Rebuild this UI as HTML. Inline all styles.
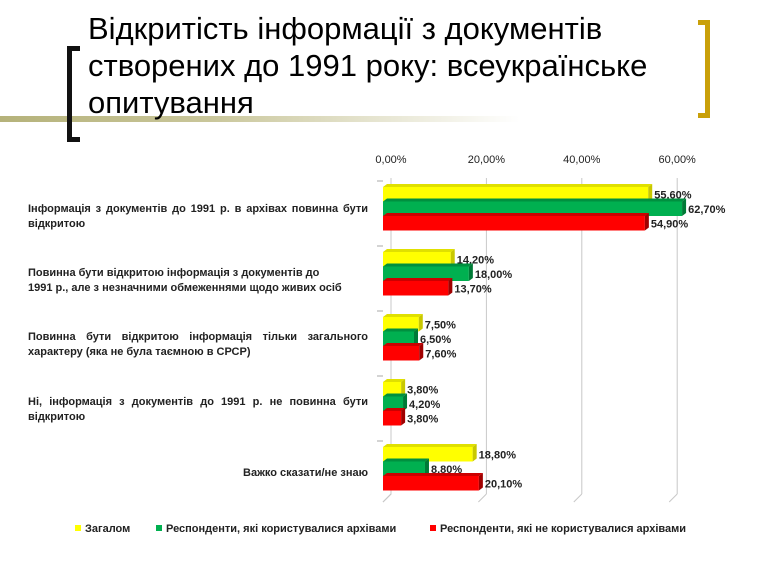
<!DOCTYPE html>
<html><head><meta charset="utf-8"><style>
body{margin:0;width:770px;height:578px;background:#fff;overflow:hidden;font-family:"Liberation Sans",sans-serif;position:relative}
.t{position:absolute;left:88px;top:10px;font-size:31px;line-height:37px;color:#000;margin:0;font-weight:normal}
.lab{position:absolute;font-size:11px;font-weight:bold;color:#222;line-height:15px;text-align:justify;text-align-last:left;width:340px;left:28px}
</style></head><body>
<div style="position:absolute;left:0;top:116px;width:520px;height:6px;background:linear-gradient(90deg,#b5b27a 0%,#c9c69a 40%,rgba(255,255,255,0) 100%)"></div>
<div style="position:absolute;left:67px;top:46px;width:8px;height:86px;border:5px solid #111;border-right:none"></div>
<div style="position:absolute;left:698px;top:20px;width:7px;height:88px;border:5px solid #c9a00a;border-left:none"></div>
<h1 class="t">Відкритість інформації з документів<br>створених до 1991 року: всеукраїнське<br>опитування</h1>
<div class="lab" style="top:202px">Інформація з документів до 1991 р. в архівах повинна бути відкритою</div>
<div class="lab" style="top:266px;width:336px">Повинна бути відкритою інформація з документів до<br>1991 р., але з незначними обмеженнями щодо живих осіб</div>
<div class="lab" style="top:330px">Повинна бути відкритою інформація тільки загального характеру (яка не була таємною в СРСР)</div>
<div class="lab" style="top:395px">Ні, інформація з документів до 1991 р. не повинна бути відкритою</div>
<div class="lab" style="top:466px;text-align:right;text-align-last:right">Важко сказати/не знаю</div>
<svg id="chart" width="770" height="578" style="position:absolute;left:0;top:0"></svg>
<script>
const categories=["c1","c2","c3","c4","c5"];
const zagalom=[55.6,14.2,7.5,3.8,18.8];
const users=[62.7,18.0,6.5,4.2,8.8];
const nonUsers=[54.9,13.7,7.6,3.8,20.1];
const ticks=[0,20,40,60];
const legendLabels=["Загалом","Респонденти, які користувалися архівами","Респонденти, які не користувалися  архівами"];
const NS="http://www.w3.org/2000/svg";
const svg=document.getElementById("chart");
const x0=383,k=4.77,dx=8,dy=8;
const xs=v=>x0+v*k;
function el(t,a){const e=document.createElementNS(NS,t);for(const n in a)e.setAttribute(n,a[n]);svg.appendChild(e);return e;}
const wall=el("polyline",{points:`${x0},502 ${x0+dx},494 ${x0+dx},178`,fill:"none",stroke:"#bbb","stroke-width":1});

ticks.forEach(t=>{
 const l=el("line",{x1:xs(t)+dx,y1:178,x2:xs(t)+dx,y2:494,stroke:"#c8c8c8"});
 
 const d=el("line",{x1:xs(t)+dx,y1:494,x2:xs(t),y2:502,stroke:"#c8c8c8"});
 
 const tx=el("text",{x:xs(t)+dx,y:163,"text-anchor":"middle","font-size":11,fill:"#222"});
 tx.textContent=t.toFixed(2).replace(".",",")+"%";
 
});
for(let i=0;i<categories.length;i++){const yy=186+i*65-2;const l=el("line",{x1:x0-6,y1:yy-3,x2:x0,y2:yy-3,stroke:"#aaa"});}
const series=[[zagalom,"#ffff00","#c8c800","#e0e000"],[users,"#00b050","#007a36","#00903f"],[nonUsers,"#ff0000","#a00000","#cc0000"]];
const bh=14.5,ox=4,oy=3;
categories.forEach((c,i)=>{
 series.forEach((s,j)=>{
  const v=s[0][i];const y=187+i*65+j*bh;const xe=xs(v);
  const top=el("polygon",{points:`${x0},${y} ${x0+ox},${y-oy} ${xe+ox},${y-oy} ${xe},${y}`,fill:s[3]});
  
  const r=el("rect",{x:x0,y:y,width:xe-x0,height:bh,fill:s[1]});
  
  const sd=el("polygon",{points:`${xe},${y} ${xe+ox},${y-oy} ${xe+ox},${y+bh-oy} ${xe},${y+bh}`,fill:s[2]});
  
  const t=el("text",{x:xe+ox+2,y:y+bh/2+4,"font-size":11,"font-weight":"bold",fill:"#222"});
  t.textContent=v.toFixed(2).replace(".",",")+"%";
  
 });
});
const lx=[75,156,430];
legendLabels.forEach((lb,j)=>{
 const r=el("rect",{x:lx[j],y:525,width:6,height:6,fill:series[j][1]});
 
 const t=el("text",{x:lx[j]+10,y:532,"font-size":11,"font-weight":"bold",fill:"#222"});
 t.textContent=lb;
 
});
</script>
</body></html>
